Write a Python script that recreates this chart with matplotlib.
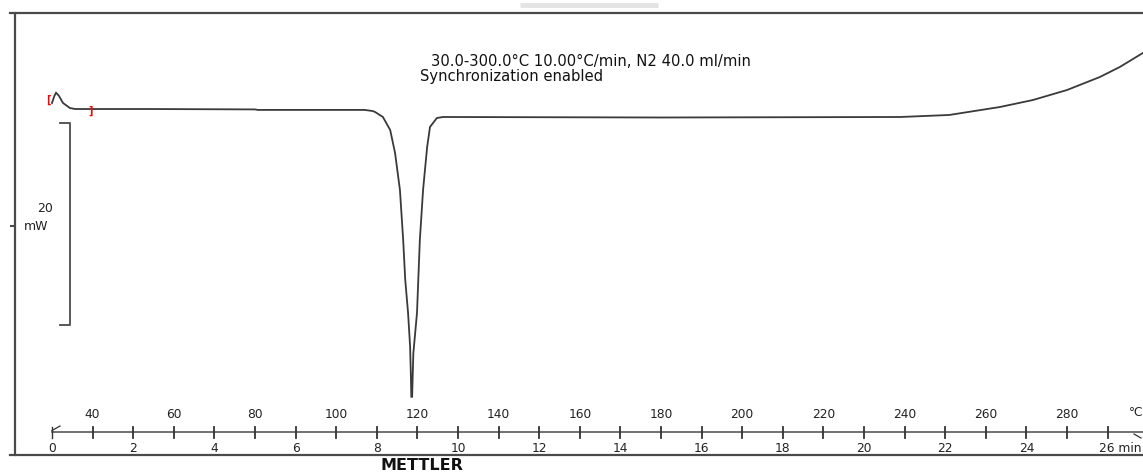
import numpy as np
import matplotlib
matplotlib.use("Agg")
from matplotlib import pyplot as plt

# DSC curve: time (min) vs heat flow (mW, relative to baseline after the peak)
time_min = [0.0, 0.06, 0.1, 0.17, 0.27, 0.44, 0.57, 1.0, 2.4, 5.0, 5.07, 7.7,
            7.9, 7.96, 8.15, 8.33, 8.45, 8.57, 8.65, 8.70, 8.77, 8.82, 8.84,
            8.85, 8.87, 8.90, 8.99, 9.06, 9.14, 9.24, 9.31, 9.48, 9.63,
            15.0, 20.9, 22.1, 23.35, 24.16, 25.0, 25.81, 26.3, 26.87]
heat_flow = [1.49, 2.2, 2.5, 2.2, 1.49, 0.99, 0.89, 0.89, 0.89, 0.85, 0.8, 0.8,
             0.69, 0.59, 0.1, -1.19, -3.47, -7.13, -12.1, -16.0, -19.3, -22.6,
             -25.6, -27.6, -27.6, -23.3, -19.3, -12.1, -7.1, -2.87, -0.89, 0.0,
             0.1, 0.05, 0.1, 0.3, 1.09, 1.78, 2.77, 4.06, 5.05, 6.44]

time_ticks = list(range(0, 27, 2))
temp_ticks = list(range(40, 300, 20))
rate = 10.0   # K/min
t_start = 30.0

W, H = 1143, 472
fig = plt.figure(figsize=(W / 100, H / 100), dpi=100)
ax = fig.add_axes([0, 0, 1, 1])
ax.set_axis_off()

# pixel calibration: t=0 at x=52, 40.6 px/min ; 0 mW at y=118, 10.1 px/mW
x0, sx = 52.0, 40.6
y0, sy = 118.0, 10.1
ax.set_xlim(-x0 / sx, (W - x0) / sx)
ax.set_ylim((y0 - H) / sy, y0 / sy)


def P(px, py):
    # pixel -> data coords (used for decorations only)
    return (px - x0) / sx, (y0 - py) / sy


lc = "#4a4a4a"
tc = "#222222"
ax.plot(time_min, heat_flow, color="#3a3a3a", lw=1.3, solid_joinstyle="miter")

# frame
fx0, fy0 = P(15, 13)
fx1, fy1 = P(W + 5, 455)
ax.plot([fx1, fx0, fx0, fx1], [fy0, fy0, fy1, fy1], color=lc, lw=1.6)
ax.plot(*zip(P(10, 13), P(15, 13)), color=lc, lw=1.6)
ax.plot(*zip(P(10, 455), P(15, 455)), color=lc, lw=1.6)
# light tab at top
ax.plot(*zip(P(520, 5), P(658, 5)), color="#e4e4e4", lw=3.5, solid_capstyle="butt")

# time/temperature axis
_, ya = P(0, 432)
ax.plot([0, P(W, 0)[0]], [ya, ya], color=lc, lw=1.1)
tick_h = 5.5 / sy
for m in range(1, 27):
    ax.plot([m, m], [ya - tick_h, ya + tick_h], color="#333333", lw=1.3)
ax.plot([0, 0], [ya - tick_h, ya + tick_h], color="#333333", lw=1.0)
ax.plot([0, 8 / sx], [ya + 1.5 / sy, ya + 6 / sy], color="#333333", lw=0.9)
ax.plot([P(1134, 0)[0], P(1141, 0)[0]], [ya - 2 / sy, ya - 6 / sy], color="#333333", lw=0.9)

for t in time_ticks:
    lab = "26 min" if t == 26 else str(t)
    ha = "left" if t == 26 else "center"
    xt = t - 9 / sx if t == 26 else t
    ax.text(xt, P(0, 449)[1], lab, ha=ha, va="center", fontsize=8.8,
            color=tc, family="DejaVu Sans")
for T in temp_ticks:
    ax.text((T - t_start) / rate, P(0, 415)[1], str(T), ha="center", va="center",
            fontsize=8.8, color=tc, family="DejaVu Sans")
ax.text(*P(1129, 413), "°C", ha="left", va="center", fontsize=8.8, color=tc)

# mW scale bar
bx, btop = P(70, 123)
_, bbot = P(70, 325)
bl = P(60, 0)[0]
ax.plot([bl, bx, bx, bl], [btop, btop, bbot, bbot], color=lc, lw=1.3)
ax.text(*P(45, 208), "20", ha="center", va="center", fontsize=9, color=tc)
ax.text(*P(36, 226), "mW", ha="center", va="center", fontsize=9, color=tc)
ax.plot(*zip(P(11, 226), P(14, 226)), color=lc, lw=1.5)

# evaluation brackets
ax.text(*P(48, 100), "[", ha="center", va="center", fontsize=7, color="red",
        fontweight="bold")
ax.text(*P(91, 111), "]", ha="center", va="center", fontsize=7, color="red",
        fontweight="bold")

# method text
ax.text(*P(431, 62), "30.0-300.0°C 10.00°C/min, N2 40.0 ml/min", ha="left",
        va="center", fontsize=10.6, color="#111111")
ax.text(*P(420, 77), "Synchronization enabled", ha="left", va="center",
        fontsize=10.6, color="#111111")
ax.text(*P(422, 465), "METTLER", ha="center", va="center", fontsize=11.5,
        fontweight="bold", color="#111111")

fig.savefig("out.png", dpi=100)
